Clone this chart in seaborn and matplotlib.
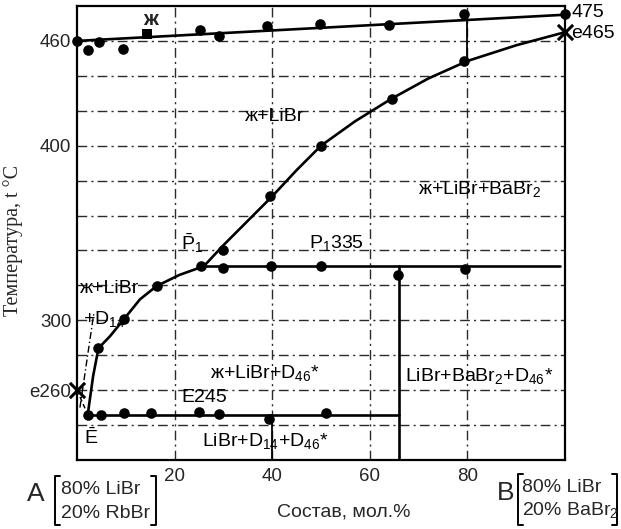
import matplotlib
matplotlib.use("Agg")
import matplotlib.pyplot as plt
import seaborn as sns
from matplotlib.lines import Line2D

# ---------------- data ----------------
# upper liquidus (ж line)
top_line_x = [0, 100]
top_line_y = [460, 475]
top_pts_x = [0, 2.3, 4.5, 9.4, 25.2, 29.1, 39.0, 49.8, 64.0, 79.4, 100]
top_pts_y = [460, 455, 459.5, 455.5, 466, 463, 468.5, 469.5, 469, 475.5, 475.5]
top_sq_x = [14.3]
top_sq_y = [463.7]

# ж+LiBr / ж+LiBr+BaBr2 boundary
libr_x = [26, 30, 35, 40, 45, 50, 57, 64.5, 72, 80, 90, 100]
libr_y = [331, 343, 357, 371, 386, 400, 414, 427, 438.5, 448.5, 457.5, 465]
libr_pts_x = [39.5, 50.1, 64.5, 79.4]
libr_pts_y = [371, 400, 427, 448.6]

# D14 crystallisation curve
d14_x = [2.2, 3.3, 4.4, 6.8, 9.6, 12.9, 16.3, 21, 26]
d14_y = [246, 268, 284, 291, 300.6, 312, 319.6, 326, 331]
d14_pts_x = [4.4, 9.6, 16.3]
d14_pts_y = [284, 300.6, 319.6]

# P1 horizontal (335)
p1_x = [26, 99]
p1_y = [331, 331]
p1_pts_x = [25.4, 29.9, 39.7, 50.1, 65.8, 79.6]
p1_pts_y = [331, 330, 331, 331, 326, 329.5]
pbar_x = [30]
pbar_y = [340]

# E horizontal (245)
e_x = [2.2, 66]
e_y = [246, 246]
e_pts_x = [2.2, 5.0, 9.6, 15.2, 25.1, 29.0, 39.4, 51.0]
e_pts_y = [246, 246, 247, 247, 247.4, 246.4, 243.5, 247]

# vertical D46* line
v66_x = [66, 66]
v66_y = [220, 331]

# tie lines
tie80_x = [80, 80]
tie80_y = [448.6, 475.5]
tie40_x = [40, 40]
tie40_y = [220, 246]

# eutectics of binaries
eut_x = [0, 100]
eut_y = [260, 465]

# dashed lines near E
dash_e_x = [0, 2.2]
dash_e_y = [260, 246]
dashdot_x = [0.6, 3.5]
dashdot_y = [250, 305]

xticks = [20, 40, 60, 80]
yticks = [260, 300, 400, 460]
ytick_labels = ["e260", "300", "400", "460"]
grid_y = [240, 260, 280, 300, 320, 340, 360, 380, 400, 420, 440, 460]

# ---------------- style ----------------
sns.set_style("white")
plt.rcParams["font.family"] = ["Liberation Sans", "DejaVu Sans"]
plt.rcParams["mathtext.fontset"] = "custom"
plt.rcParams["mathtext.rm"] = "Liberation Sans"
plt.rcParams["mathtext.it"] = "Liberation Sans"
plt.rcParams["mathtext.default"] = "rm"

fig = plt.figure(figsize=(6.21, 5.29), dpi=100)
ax = fig.add_axes([77 / 621, 1 - 460 / 529, (565 - 77) / 621, (460 - 6) / 529])

ax.set_xlim(0, 100)
ax.set_ylim(220, 480)

# grid
gkw = dict(color="#2a2a2a", lw=1.0, ls=(0, (7, 3, 1.5, 3)), zorder=1)
for gx in xticks:
    ax.axvline(gx, **gkw)
for gy in grid_y:
    ax.axhline(gy, **gkw)

lw = 1.9
def line(xs, ys, **kw):
    sns.lineplot(x=xs, y=ys, ax=ax, color="black", lw=kw.pop("lw", lw),
                 sort=False, estimator=None, zorder=3, **kw)

line(top_line_x, top_line_y)
line(libr_x, libr_y)
line(d14_x, d14_y)
line(p1_x, p1_y)
line(e_x, e_y)
line(v66_x, v66_y)
line(tie80_x, tie80_y, lw=1.3)
line(tie40_x, tie40_y, lw=1.3)
line(dash_e_x, dash_e_y, lw=1.1, ls=(0, (3, 2)))
line(dashdot_x, dashdot_y, lw=1.0, ls=(0, (5, 2, 1, 2)))

def dots(xs, ys, marker="o", s=58):
    sns.scatterplot(x=xs, y=ys, ax=ax, color="black", marker=marker, s=s,
                    edgecolor="black", linewidth=0, zorder=4, clip_on=False)

dots(top_pts_x, top_pts_y)
dots(top_sq_x, top_sq_y, marker="s", s=50)
dots(libr_pts_x, libr_pts_y)
dots(d14_pts_x, d14_pts_y)
dots(p1_pts_x, p1_pts_y)
dots(pbar_x, pbar_y)
dots(e_pts_x, e_pts_y)
sns.scatterplot(x=eut_x, y=eut_y, ax=ax, color="black", marker="x", s=120,
                linewidth=2.2, zorder=5, clip_on=False)

# frame
for sp in ax.spines.values():
    sp.set_visible(True)
    sp.set_color("black")
    sp.set_linewidth(1.6)

ax.set_xticks(xticks)
ax.set_xticklabels([str(v) for v in xticks], fontsize=13.5)
ax.set_yticks(yticks)
ax.set_yticklabels(ytick_labels, fontsize=13.5)
ax.tick_params(axis="both", length=0, pad=6)
ax.tick_params(axis="y", pad=4)
ax.set_xlabel("")
ax.set_ylabel("")

fs = 14
kw = dict(fontsize=fs, color="black", zorder=6)
ax.text(15, 472, "ж", ha="center", va="center", fontsize=15, fontweight="bold")
ax.text(40.6, 417, "ж+LiBr", ha="center", va="center", **kw)
ax.text(82.4, 375, "ж+LiBr+BaBr$_2$", ha="center", va="center", **kw)
ax.text(23.5, 344, r"$\bar{\mathrm{P}}_1$", ha="center", va="center", **kw)
ax.text(47.5, 344, "P$_1$335", ha="left", va="center", **kw)
ax.text(0.6, 318, "ж+LiBr", ha="left", va="center", **kw)
ax.text(1.3, 301, "+D$_{14}$", ha="left", va="center", **kw)
ax.text(38.5, 270, "ж+LiBr+D$_{46}$*", ha="center", va="center", **kw)
ax.text(21.3, 256, "E245", ha="left", va="center", **kw)
ax.text(1.4, 233, r"$\bar{\mathrm{E}}$", ha="left", va="center", **kw)
ax.text(38.5, 231, "LiBr+D$_{14}$+D$_{46}$*", ha="center", va="center", **kw)
ax.text(82.5, 268, "LiBr+BaBr$_2$+D$_{46}$*", ha="center", va="center", **kw)
ax.text(101.3, 476.5, "475", ha="left", va="center", clip_on=False, **kw)
ax.text(101.3, 464.5, "e465", ha="left", va="center", clip_on=False, **kw)

# axis titles
fig.text(344 / 621, 1 - 512 / 529, "Состав, мол.%", ha="center", va="center", fontsize=14)
fig.text(13 / 621, 1 - 240 / 529, "Температура, t °C", ha="center", va="center",
         rotation=90, fontsize=14.5, family=["Liberation Serif", "DejaVu Serif"])

# component brackets
def bracket(x0, x1, ytop, ybot):
    for xs, ys in (([x0 + 5, x0, x0, x0 + 5], [ytop, ytop, ybot, ybot]),
                   ([x1 - 5, x1, x1, x1 - 5], [ytop, ytop, ybot, ybot])):
        fig.add_artist(Line2D([v / 621 for v in xs], [1 - v / 529 for v in ys],
                              color="black", lw=1.4))

fig.text(36 / 621, 1 - 494 / 529, "A", ha="center", va="center", fontsize=19)
bracket(55, 156, 476, 525)
fig.text(61 / 621, 1 - 490 / 529, "80% LiBr", ha="left", va="center", fontsize=14)
fig.text(61 / 621, 1 - 513 / 529, "20% RbBr", ha="left", va="center", fontsize=14)

fig.text(506 / 621, 1 - 493 / 529, "B", ha="center", va="center", fontsize=19)
bracket(518, 617, 474, 525)
fig.text(522 / 621, 1 - 487 / 529, "80% LiBr", ha="left", va="center", fontsize=14)
fig.text(522 / 621, 1 - 510 / 529, "20% BaBr$_2$", ha="left", va="center", fontsize=14)

fig.savefig("out.png", dpi=100)
